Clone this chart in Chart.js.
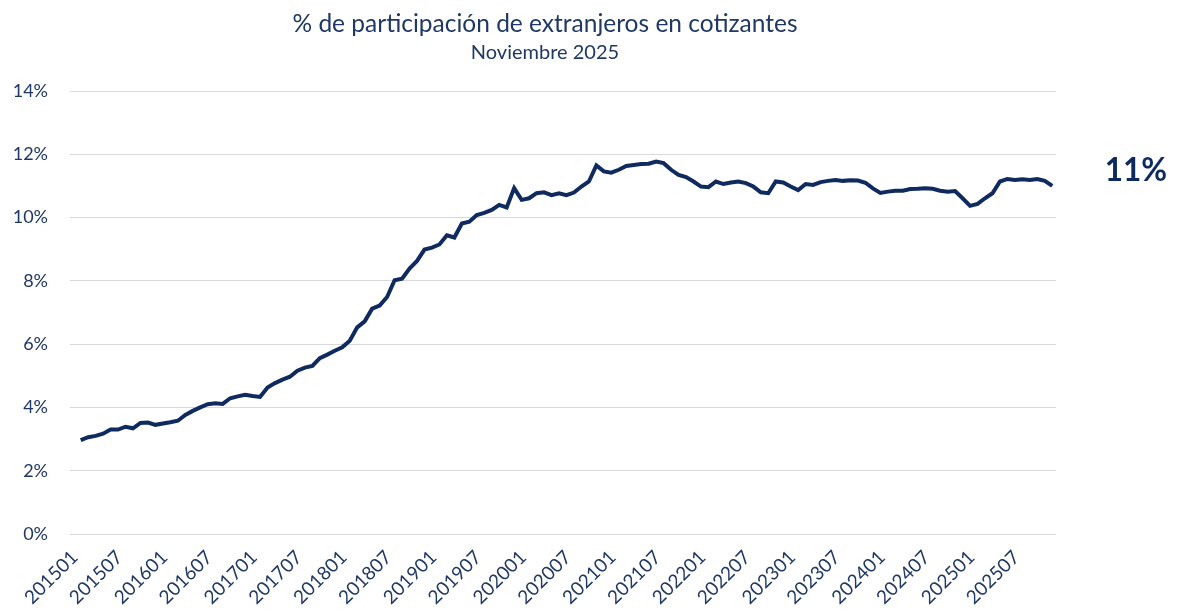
<!DOCTYPE html>
<html>
<head>
<meta charset="utf-8">
<script src="https://cdn.jsdelivr.net/npm/chart.js@4/dist/chart.umd.min.js"></script>
<style>
  html, body { margin: 0; padding: 0; background: #ffffff; }
  #wrap { width: 1177px; height: 612px; position: relative; }
</style>
</head>
<body>
<div id="wrap"><canvas id="c" width="1177" height="612"></canvas></div>
<script>
const startYear = 2015;
const monthsCount = 131;
const periods = [];
for (let i = 0; i < monthsCount; i++) {
  const y = startYear + Math.floor(i / 12);
  const m = (i % 12) + 1;
  periods.push(String(y) + (m < 10 ? '0' + m : String(m)));
}

const participation = [
  2.97, 3.06, 3.10, 3.17, 3.30, 3.30, 3.39, 3.34, 3.51, 3.52, 3.45, 3.49,
  3.53, 3.58, 3.76, 3.89, 4.00, 4.10, 4.13, 4.11, 4.29, 4.35, 4.40, 4.36,
  4.33, 4.63, 4.77, 4.88, 4.97, 5.16, 5.26, 5.31, 5.56, 5.67, 5.79, 5.90,
  6.11, 6.53, 6.72, 7.12, 7.22, 7.49, 8.02, 8.07, 8.39, 8.63, 8.99, 9.05,
  9.15, 9.44, 9.37, 9.81, 9.87, 10.08, 10.15, 10.24, 10.40, 10.32, 10.93, 10.56,
  10.61, 10.77, 10.80, 10.71, 10.77, 10.71, 10.79, 10.98, 11.14, 11.65, 11.46, 11.42,
  11.51, 11.63, 11.66, 11.69, 11.70, 11.77, 11.72, 11.51, 11.35, 11.28, 11.14, 10.98,
  10.96, 11.14, 11.06, 11.11, 11.14, 11.09, 10.98, 10.80, 10.77, 11.14, 11.11, 10.98,
  10.87, 11.06, 11.03, 11.12, 11.16, 11.19, 11.16, 11.18, 11.17, 11.10, 10.92, 10.78,
  10.82, 10.85, 10.85, 10.90, 10.91, 10.93, 10.91, 10.85, 10.82, 10.84, 10.61, 10.37,
  10.43, 10.61, 10.77, 11.14, 11.22, 11.19, 11.21, 11.19, 11.22, 11.16, 11.00
];

const yTicks = [0, 2, 4, 6, 8, 10, 12, 14];
const xTickEvery = 6;

const titleText = '% de participación de extranjeros en cotizantes';
const subtitleText = 'Noviembre 2025';
const lastLabel = '11%';

const NAVY = '#1f3864';
const LINE = '#0f2a5e';
const FONT = 'Lato, Carlito, Calibri, sans-serif';

const points = participation.map((v, i) => ({ x: i, y: v }));

const textPlugin = {
  id: 'texts',
  afterDraw(chart) {
    const ctx = chart.ctx;
    ctx.save();
    ctx.fillStyle = NAVY;
    ctx.textAlign = 'center';
    ctx.textBaseline = 'middle';
    ctx.font = '24.5px ' + FONT;
    ctx.fillText(titleText, 545, 24);
    ctx.font = '20px ' + FONT;
    ctx.fillText(subtitleText, 545, 53);
    ctx.fillStyle = '#0e2a5c';
    ctx.font = 'bold 31.5px ' + FONT;
    ctx.fillText(lastLabel, 1136, 171);
    ctx.restore();
  }
};

new Chart(document.getElementById('c'), {
  type: 'line',
  data: {
    datasets: [{
      data: points,
      borderColor: LINE,
      borderWidth: 4,
      pointRadius: 0,
      tension: 0,
      fill: false
    }]
  },
  options: {
    responsive: false,
    animation: false,
    layout: { padding: { top: 91, right: 121, bottom: 0, left: 0 } },
    plugins: { legend: { display: false }, tooltip: { enabled: false } },
    scales: {
      x: {
        type: 'linear',
        min: -1.43,
        max: 130.5,
        grid: { display: false },
        border: { display: false },
        afterBuildTicks(scale) {
          const t = [];
          for (let i = 0; i < periods.length; i += xTickEvery) t.push({ value: i });
          scale.ticks = t;
        },
        afterFit(scale) { scale.height = 78; },
        ticks: {
          autoSkip: false,
          minRotation: 45,
          maxRotation: 45,
          padding: 4,
          labelOffset: -6,
          color: NAVY,
          font: { family: FONT, size: 19 },
          callback: (v) => periods[v] || ''
        }
      },
      y: {
        min: 0,
        max: 14,
        afterBuildTicks(scale) { scale.ticks = yTicks.map(v => ({ value: v })); },
        afterFit(scale) { scale.width = 70; },
        grid: { color: '#d9d9d9', lineWidth: 1, drawTicks: false },
        border: { display: false },
        ticks: {
          padding: 22,
          color: NAVY,
          font: { family: FONT, size: 18 },
          callback: (v) => v + '%'
        }
      }
    }
  },
  plugins: [textPlugin]
});
</script>
</body>
</html>
